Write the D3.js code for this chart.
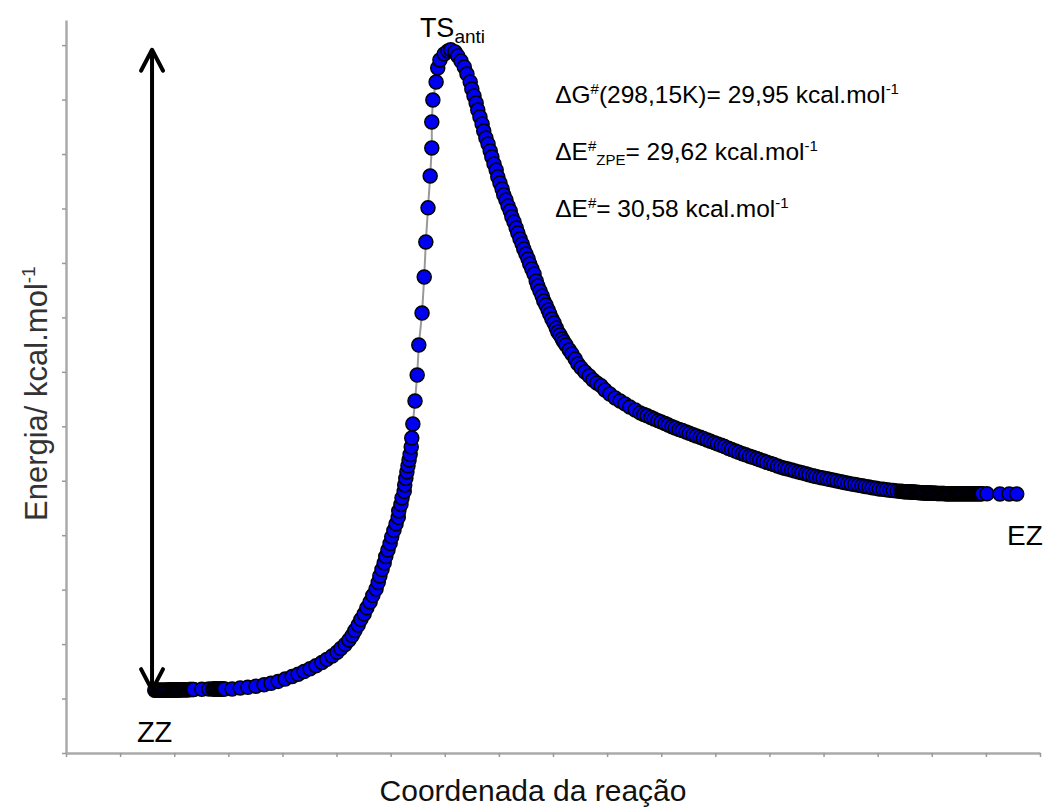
<!DOCTYPE html>
<html lang="pt">
<head>
<meta charset="UTF-8">
<title>Energia ao longo da coordenada da reação</title>
<script src="https://d3js.org/d3.v7.min.js"></script>
<style>
  body { margin: 0; background: #fff; }
  svg { display: block; font-family: "Liberation Sans", Arial, Helvetica, sans-serif; }
  .axis path, .axis line { stroke: #aaa; }
  .axis path { stroke-width: 2.5px; }
  .axis line { stroke-width: 1.5px; stroke: #999; }
</style>
</head>
<body>
<svg id="chart" width="1051" height="811"></svg>
<script>
// [reaction coordinate (tick units), relative energy (kcal/mol)]
const zzPlateau = [[1.64,0.00],[1.66,0.00],[1.68,0.00],[1.70,0.00],[1.72,0.00],[1.74,0.00],[1.76,0.00],[1.78,0.00],[1.80,0.00],[1.82,0.00],[1.84,0.00],[1.86,0.00],[1.88,0.01],[1.90,0.01],[1.92,0.01],[1.94,0.01],[1.96,0.01],[1.98,0.01],[2.00,0.01],[2.02,0.01],[2.04,0.01],[2.06,0.01],[2.08,0.01],[2.10,0.01],[2.12,0.02],[2.14,0.02],[2.16,0.02],[2.18,0.02],[2.20,0.02],[2.22,0.02],[2.24,0.02],[2.26,0.02],[2.28,0.03],[2.30,0.03],[2.32,0.03],[2.34,0.03],[2.36,0.03],[2.51,0.04],[2.64,0.05],[2.71,0.05],[2.73,0.05],[2.75,0.05],[2.77,0.05],[2.79,0.05],[2.81,0.05],[2.83,0.06],[2.85,0.06],[2.87,0.06],[2.89,0.06],[2.91,0.06],[2.93,0.06]];

const riseBranch = [[3.07,0.06],[3.22,0.10],[3.36,0.14],[3.51,0.19],[3.66,0.26],[3.79,0.33],[3.92,0.42],[4.05,0.53],[4.18,0.65],[4.29,0.76],[4.40,0.89],[4.51,1.02],[4.62,1.17],[4.73,1.32],[4.82,1.47],[4.92,1.63],[5.01,1.81],[5.08,1.99],[5.16,2.18],[5.23,2.40],[5.29,2.61],[5.34,2.85],[5.40,3.11],[5.45,3.38],[5.51,3.64],[5.56,3.93],[5.62,4.21],[5.67,4.52],[5.73,4.83],[5.77,5.14],[5.80,5.45],[5.84,5.76],[5.88,6.07],[5.91,6.38],[5.95,6.69],[5.99,7.00],[6.02,7.32],[6.06,7.63],[6.10,7.94],[6.14,8.25],[6.15,8.56],[6.19,8.87],[6.21,9.18],[6.25,9.49],[6.26,9.80],[6.28,10.11],[6.30,10.42],[6.32,10.71],[6.34,10.99],[6.36,11.25]];

const tsBranch = [[6.38,11.61],[6.39,12.04],[6.41,12.71],[6.45,13.81],[6.49,15.05],[6.52,16.48],[6.58,18.01],[6.62,19.73],[6.65,21.40],[6.69,23.03],[6.73,24.55],[6.76,25.89],[6.76,27.13],[6.78,28.18],[6.84,29.04],[6.87,29.71],[6.91,30.09],[6.99,30.38],[7.06,30.52],[7.11,30.58]];

const descentBranch = [[7.19,30.47],[7.24,30.28],[7.30,30.04],[7.36,29.76],[7.41,29.42],[7.47,29.04],[7.50,28.71],[7.54,28.37],[7.58,28.04],[7.61,27.70],[7.65,27.37],[7.69,27.04],[7.72,26.70],[7.76,26.37],[7.80,26.08],[7.84,25.75],[7.87,25.46],[7.91,25.13],[7.95,24.84],[7.98,24.51],[8.02,24.22],[8.06,23.93],[8.09,23.65],[8.13,23.41],[8.17,23.12],[8.21,22.88],[8.24,22.60],[8.28,22.36],[8.32,22.07],[8.35,21.83],[8.39,21.55],[8.43,21.31],[8.46,21.07],[8.50,20.83],[8.54,20.59],[8.57,20.35],[8.61,20.11],[8.65,19.87],[8.69,19.54],[8.72,19.30],[8.76,19.06],[8.80,18.82],[8.83,18.58],[8.87,18.39],[8.91,18.15],[8.94,17.96],[8.98,17.72],[9.02,17.53],[9.06,17.29],[9.09,17.10],[9.13,16.96],[9.17,16.77],[9.20,16.63],[9.24,16.48],[9.30,16.24],[9.35,16.05],[9.41,15.81],[9.46,15.58],[9.52,15.39],[9.59,15.19],[9.67,15.00],[9.74,14.81],[9.81,14.67],[9.89,14.53],[9.96,14.33],[10.05,14.14],[10.15,13.95],[10.24,13.81],[10.33,13.67],[10.42,13.52],[10.52,13.38]];

const tailBranch = [[10.61,13.24],[10.68,13.16],[10.74,13.10],[10.81,13.02],[10.87,12.95],[10.94,12.87],[11.00,12.81],[11.07,12.73],[11.13,12.66],[11.20,12.58],[11.26,12.52],[11.33,12.45],[11.39,12.40],[11.46,12.33],[11.52,12.27],[11.59,12.20],[11.65,12.14],[11.72,12.08],[11.78,12.02],[11.85,11.95],[11.91,11.89],[11.98,11.82],[12.04,11.76],[12.11,11.69],[12.17,11.63],[12.24,11.55],[12.30,11.49],[12.37,11.42],[12.43,11.36],[12.50,11.29],[12.56,11.24],[12.63,11.17],[12.69,11.12],[12.76,11.06],[12.82,11.00],[12.89,10.94],[12.95,10.88],[13.02,10.82],[13.08,10.77],[13.15,10.70],[13.21,10.65],[13.28,10.60],[13.34,10.56],[13.41,10.51],[13.47,10.47],[13.54,10.42],[13.60,10.38],[13.67,10.33],[13.73,10.29],[13.80,10.24],[13.86,10.20],[13.93,10.16],[13.99,10.13],[14.06,10.09],[14.12,10.06],[14.19,10.02],[14.25,9.99],[14.32,9.95],[14.38,9.92],[14.45,9.88],[14.51,9.85],[14.58,9.82],[14.64,9.79],[14.71,9.76],[14.77,9.73],[14.84,9.70],[14.90,9.67],[14.97,9.64],[15.03,9.61],[15.10,9.59],[15.16,9.57],[15.23,9.55],[15.29,9.53],[15.36,9.51],[15.42,9.50]];

const ezPlateau = [[15.45,9.49],[15.47,9.49],[15.49,9.48],[15.51,9.48],[15.53,9.48],[15.55,9.47],[15.57,9.47],[15.59,9.47],[15.61,9.46],[15.63,9.46],[15.65,9.46],[15.67,9.45],[15.69,9.45],[15.71,9.45],[15.73,9.44],[15.75,9.44],[15.77,9.44],[15.79,9.43],[15.81,9.43],[15.83,9.43],[15.85,9.42],[15.87,9.42],[15.89,9.42],[15.91,9.41],[15.93,9.41],[15.95,9.41],[15.97,9.41],[15.99,9.40],[16.01,9.40],[16.03,9.40],[16.05,9.40],[16.07,9.40],[16.09,9.39],[16.11,9.39],[16.13,9.39],[16.15,9.39],[16.17,9.39],[16.19,9.39],[16.21,9.39],[16.23,9.39],[16.25,9.38],[16.27,9.38],[16.29,9.38],[16.31,9.38],[16.33,9.38],[16.35,9.38],[16.37,9.38],[16.39,9.38],[16.41,9.38],[16.43,9.38],[16.45,9.38],[16.47,9.38],[16.49,9.38],[16.51,9.38],[16.53,9.38],[16.55,9.38],[16.57,9.38],[16.59,9.38],[16.61,9.38],[16.63,9.38],[16.65,9.38],[16.67,9.38],[16.69,9.38],[16.71,9.38],[16.73,9.38],[16.75,9.38],[16.77,9.38],[16.79,9.38],[16.81,9.38],[16.83,9.38],[16.85,9.38],[16.87,9.38],[16.89,9.38],[16.91,9.38],[16.93,9.38],[17.02,9.38],[17.26,9.37],[17.43,9.37],[17.57,9.37]];

const xTicks = [0,1,2,3,4,5,6,7,8,9,10,11,12,13,14,15,16,17,18];
const yTicks = [-3,-0.4,2.2,4.8,7.4,10,12.6,15.2,17.8,20.4,23,25.6,28.2,30.8];

// barrier arrow: at this coordinate, from ZZ (0) up to TS (30.58)
const arrowX = 1.59;
const arrowSpan = [0, 30.58];

const xTitle = "Coordenada da reação";
const yTitle = "Energia/ kcal.mol";

const svg = d3.select("#chart");
const x = d3.scaleLinear().domain([0, 18]).range([66, 1040]);
const y = d3.scaleLinear().domain([-3, 32]).range([753, 20]);

svg.append("rect").attr("width", 1051).attr("height", 811).attr("fill", "#fff");

// axes, no tick labels
svg.append("g").attr("class", "axis")
  .attr("transform", "translate(0,753)")
  .call(d3.axisBottom(x).tickValues(xTicks).tickSize(4).tickSizeOuter(0).tickFormat(""));
svg.append("g").attr("class", "axis")
  .attr("transform", "translate(66,0)")
  .call(d3.axisLeft(y).tickValues(yTicks).tickSize(4).tickSizeOuter(0).tickFormat(""));

const points = zzPlateau.concat(riseBranch, tsBranch, descentBranch, tailBranch, ezPlateau);

// thin connecting line under the markers
svg.append("path")
  .datum(points)
  .attr("fill", "none")
  .attr("stroke", "#999")
  .attr("stroke-width", 2)
  .attr("d", d3.line().x(d => x(d[0])).y(d => y(d[1])));

svg.append("g").selectAll("circle")
  .data(points)
  .join("circle")
  .attr("cx", d => x(d[0]))
  .attr("cy", d => y(d[1]))
  .attr("r", 7)
  .attr("fill", "#0000f0")
  .attr("stroke", "#000")
  .attr("stroke-width", 1.5);

// double headed arrow ZZ -> TS
const ax = x(arrowX), aTop = y(arrowSpan[1]), aBot = y(arrowSpan[0]);
const arrow = svg.append("g").attr("stroke", "#000").attr("fill", "none")
  .attr("stroke-width", 4).attr("stroke-linecap", "round").attr("stroke-linejoin", "round");
arrow.append("line").attr("x1", ax).attr("x2", ax).attr("y1", aTop + 2).attr("y2", aBot - 2);
arrow.append("path").attr("d", `M${ax - 11},${aTop + 21}L${ax},${aTop}L${ax + 11},${aTop + 21}`);
arrow.append("path").attr("d", `M${ax - 11},${aBot - 21}L${ax},${aBot}L${ax + 11},${aBot - 21}`);

// point labels
svg.append("text").attr("x", x(1.31)).attr("y", y(-2.47))
  .attr("font-size", 29).attr("fill", "#000").text("ZZ");
svg.append("text").attr("x", x(17.39)).attr("y", y(6.93))
  .attr("font-size", 28).attr("fill", "#000").text("EZ");
const ts = svg.append("text").attr("x", x(6.54)).attr("y", y(31.19))
  .attr("font-size", 27).attr("fill", "#000");
ts.append("tspan").text("TS");
ts.append("tspan").attr("font-size", 19).attr("dy", 6).text("anti");

// barrier values
const notes = [
  {yv: 28.04, parts: [["ΔG", 0], ["#", 1], ["(298,15K)= 29,95 kcal.mol", 0], ["-1", 1]]},
  {yv: 25.31, parts: [["ΔE", 0], ["#", 1], ["ZPE", -1], ["= 29,62 kcal.mol", 0], ["-1", 1]]},
  {yv: 22.59, parts: [["ΔE", 0], ["#", 1], ["= 30,58 kcal.mol", 0], ["-1", 1]]}
];
notes.forEach(n => {
  const t = svg.append("text").attr("x", x(9.04)).attr("y", y(n.yv))
    .attr("font-size", 24.5).attr("fill", "#000");
  let level = 0;
  n.parts.forEach(([s, lv]) => {
    const shift = (lv === 1 ? -9 : lv === -1 ? 5 : 0);
    t.append("tspan")
      .attr("dy", shift - level)
      .attr("font-size", lv === 0 ? 24.5 : 15)
      .text(s);
    level = shift;
  });
});

// axis titles
svg.append("text").attr("x", 533).attr("y", 801)
  .attr("text-anchor", "middle").attr("font-size", 30).attr("fill", "#111")
  .text(xTitle);
const yt = svg.append("text")
  .attr("transform", "translate(47,521) rotate(-90)")
  .attr("font-size", 31).attr("fill", "#333");
yt.append("tspan").text(yTitle);
yt.append("tspan").attr("font-size", 19).attr("dy", -12).text("-1");
</script>
</body>
</html>
